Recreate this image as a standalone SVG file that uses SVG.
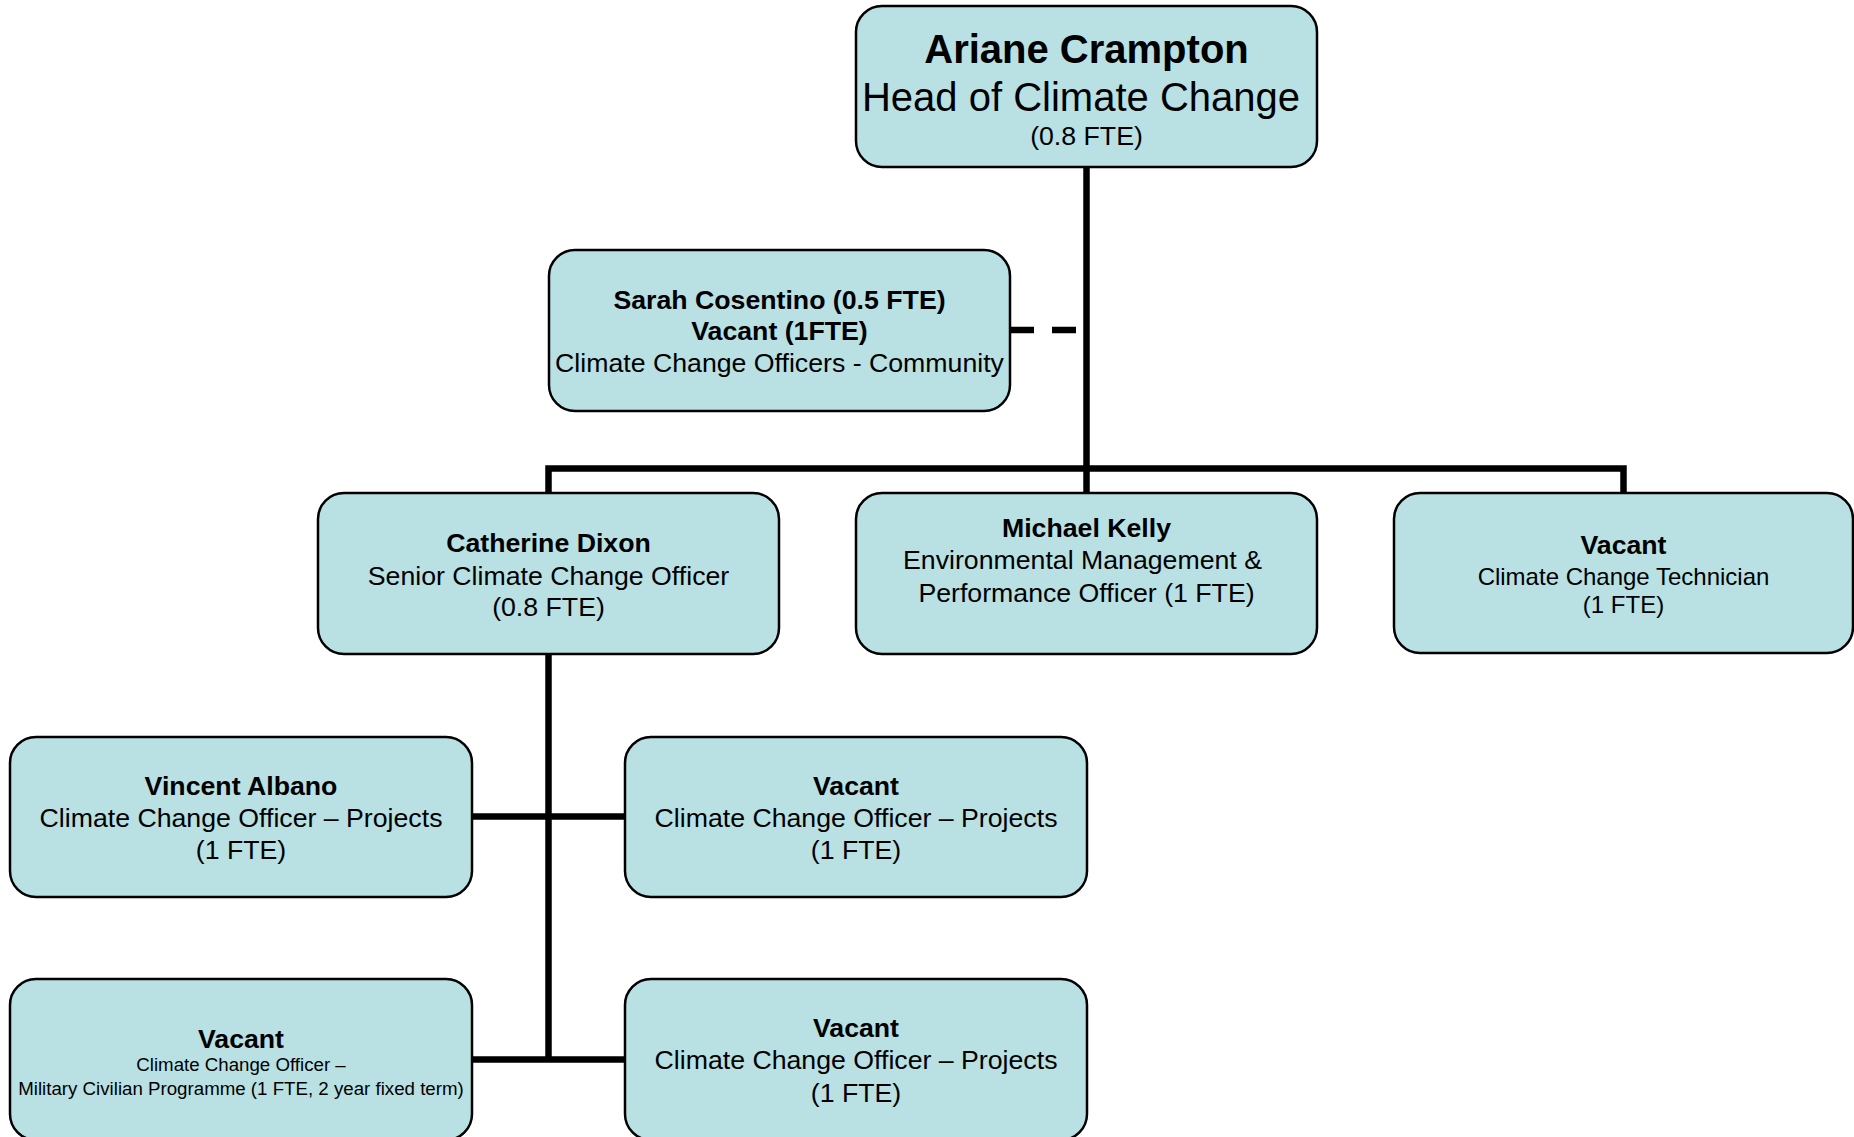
<svg xmlns="http://www.w3.org/2000/svg" width="1854" height="1137" viewBox="0 0 1854 1137">
<style>
.box{fill:#b9e0e3;stroke:#000;stroke-width:2.5}
.ln{fill:none;stroke:#000;stroke-width:6.5;stroke-linecap:butt;stroke-linejoin:miter}
text{font-family:"Liberation Sans",Arial,sans-serif;fill:#000;text-anchor:middle}
.b{font-weight:bold;font-size:26.7px}
.r{font-size:26.7px}
.s{font-size:24px}
.xs{font-size:18.7px}
.big{font-size:40px}
</style>
<rect width="1854" height="1137" fill="#fff"/>
<g id="connectors">
<path class="ln" d="M1086.5 167 V493"/>
<path class="ln" d="M548.5 493 V468.5 H1623.5 V493"/>
<path class="ln" d="M1010 330 H1083" stroke-dasharray="24 18"/>
<path class="ln" d="M548.5 654 V1059.5"/>
<path class="ln" d="M472 816.5 H625"/>
<path class="ln" d="M472 1059.5 H625"/>
</g>
<g id="ariane">
<rect class="box" x="856" y="6" width="461" height="161" rx="26"/>
<text x="1086.5" y="63" class="big" font-weight="bold">Ariane Crampton</text>
<text x="1081" y="110.5" class="big">Head of Climate Change</text>
<text x="1086.5" y="145" class="r">(0.8 FTE)</text>
</g>
<g id="sarah">
<rect class="box" x="549" y="250" width="461" height="161" rx="26"/>
<text x="779.5" y="308.5" class="b">Sarah Cosentino (0.5 FTE)</text>
<text x="779.5" y="340" class="b">Vacant (1FTE)</text>
<text x="779.5" y="371.5" class="r">Climate Change Officers - Community</text>
</g>
<g id="catherine">
<rect class="box" x="318" y="493" width="461" height="161" rx="26"/>
<text x="548.5" y="552" class="b">Catherine Dixon</text>
<text x="548.5" y="584.5" class="r">Senior Climate Change Officer</text>
<text x="548.5" y="616" class="r">(0.8 FTE)</text>
</g>
<g id="michael">
<rect class="box" x="856" y="493" width="461" height="161" rx="26"/>
<text x="1086.5" y="536.5" class="b">Michael Kelly</text>
<text x="1082.5" y="569" class="r">Environmental Management &amp;</text>
<text x="1086.5" y="601.5" class="r">Performance Officer (1 FTE)</text>
</g>
<g id="technician">
<rect class="box" x="1394" y="493" width="459" height="160" rx="26"/>
<text x="1623.5" y="554" class="b">Vacant</text>
<text x="1623.5" y="584.5" class="s">Climate Change Technician</text>
<text x="1623.5" y="612.5" class="s">(1 FTE)</text>
</g>
<g id="vincent">
<rect class="box" x="10" y="737" width="462" height="160" rx="26"/>
<text x="241" y="795" class="b">Vincent Albano</text>
<text x="241" y="826.5" class="r">Climate Change Officer – Projects</text>
<text x="241" y="859" class="r">(1 FTE)</text>
</g>
<g id="vacant-projects-1">
<rect class="box" x="625" y="737" width="462" height="160" rx="26"/>
<text x="856" y="795" class="b">Vacant</text>
<text x="856" y="826.5" class="r">Climate Change Officer – Projects</text>
<text x="856" y="859" class="r">(1 FTE)</text>
</g>
<g id="vacant-military">
<rect class="box" x="10" y="979" width="462" height="161" rx="26"/>
<text x="241" y="1048" class="b">Vacant</text>
<text x="241" y="1070.5" class="xs">Climate Change Officer –</text>
<text x="241" y="1094.5" class="xs">Military Civilian Programme (1 FTE, 2 year fixed term)</text>
</g>
<g id="vacant-projects-2">
<rect class="box" x="625" y="979" width="462" height="161" rx="26"/>
<text x="856" y="1037" class="b">Vacant</text>
<text x="856" y="1069" class="r">Climate Change Officer – Projects</text>
<text x="856" y="1102" class="r">(1 FTE)</text>
</g>
</svg>
